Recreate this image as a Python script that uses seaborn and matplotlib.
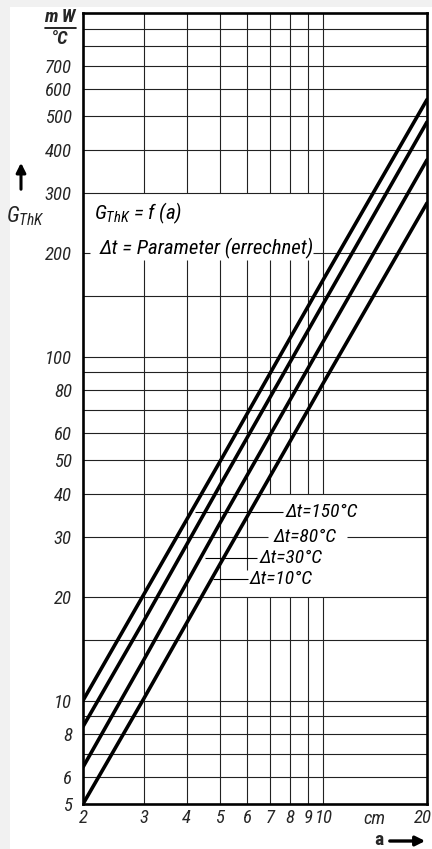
import numpy as np
import pandas as pd
import seaborn as sns
import matplotlib.pyplot as plt
import matplotlib.transforms as mtransforms
from matplotlib import font_manager
from matplotlib.ticker import NullLocator, FixedLocator
from matplotlib.patches import Rectangle

# Data: G_ThK (mW/°C) against distance a (cm)
a_cm = [2, 3, 5, 10, 20]
g_150 = [10.0, 20.3, 49.5, 168, 560]
g_80 = [8.4, 17.0, 42.2, 143, 482]
g_30 = [6.4, 13.1, 32.8, 111, 374]
g_10 = [5.0, 10.1, 24.9, 84, 280]
series_names = ['150', '80', '30', '10']

x_ticks = [2, 3, 4, 5, 6, 7, 8, 9, 10, 20]
x_tick_labels = ['2', '3', '4', '5', '6', '7', '8', '9', '10', '20']
y_ticks = [5, 6, 8, 10, 20, 30, 40, 50, 60, 80, 100, 200, 300, 400, 500, 600, 700]
y_tick_labels = [str(v) for v in y_ticks]

df = pd.DataFrame({
    'a': a_cm * 4,
    'G': g_150 + g_80 + g_30 + g_10,
    'dt': np.repeat(series_names, len(a_cm)),
})

# the original uses a narrow italic lettering, take a narrow face if one is there
names = {f.name for f in font_manager.fontManager.ttflist}
family = 'DejaVu Sans'
for cand in ['Roboto Condensed', 'Liberation Sans Narrow', 'DejaVu Sans Condensed',
             'Open Sans Condensed']:
    if cand in names:
        family = cand
        break
k = 1.0 if family != 'DejaVu Sans' else 0.82
fs_tick = 13.5 * k
fs_text = 15 * k
fs_lab = 14 * k

sns.set_style('white')
plt.rcParams['font.family'] = [family, 'DejaVu Sans']
plt.rcParams['font.style'] = 'italic'
plt.rcParams['mathtext.fontset'] = 'custom'
plt.rcParams['mathtext.it'] = family + ':italic'
plt.rcParams['mathtext.rm'] = family + ':italic'

W, H = 432, 849
fig = plt.figure(figsize=(W / 100, H / 100), dpi=100, facecolor='#f1f1f1')
fig.patches.append(Rectangle((10 / W, 0), 1, 1 - 7 / H, transform=fig.transFigure,
                             facecolor='white', edgecolor='none', zorder=-10))
ax = fig.add_axes([83 / W, 1 - 804 / H, (427 - 83) / W, (804 - 13) / H])
ax.set_facecolor('white')
ax.set_xscale('log')
ax.set_yscale('log')
ax.set_xlim(2, 20)
ax.set_ylim(5, 1000)

gkw = dict(color='#222222', lw=0.8, zorder=1)


def vseg(x, lows, highs):
    ax.vlines([x] * len(lows), lows, highs, **gkw)


# grid, drawn by hand because the original leaves gaps for the text
for y in [6, 7, 8, 9, 10, 15, 20, 40, 50, 60, 70, 80, 90, 100, 150,
          300, 400, 500, 600, 700, 800, 900]:
    ax.hlines(y, 2, 20, **gkw)
ax.hlines(200, 2, 2.1, **gkw)
ax.hlines(200, 9.3, 20, **gkw)
ax.hlines(30, 2, 6.9, **gkw)
ax.hlines(30, 11.7, 20, **gkw)
for x in [3, 4, 5]:
    vseg(x, [5, 300], [191, 1000])
vseg(6, [5, 24, 300], [20, 191, 1000])
for x in [7, 8, 9]:
    vseg(x, [5, 40, 300], [20, 191, 1000])
vseg(10, [5, 40], [20, 1000])

sns.lineplot(data=df, x='a', y='G', hue='dt', palette=['black'] * 4,
             legend=False, lw=2.6, ax=ax, zorder=3)

for s in ax.spines.values():
    s.set_color('black')
    s.set_linewidth(1.9)

ax.xaxis.set_major_locator(FixedLocator(x_ticks))
ax.set_xticklabels(x_tick_labels)
ax.yaxis.set_major_locator(FixedLocator(y_ticks))
ax.set_yticklabels(y_tick_labels)
ax.xaxis.set_minor_locator(NullLocator())
ax.yaxis.set_minor_locator(NullLocator())
ax.tick_params(axis='both', length=0, labelsize=fs_tick)
ax.tick_params(axis='y', pad=8)
ax.tick_params(axis='x', pad=3.5)
ax.set_xlabel('')
ax.set_ylabel('')
last = ax.get_xticklabels()[-1]
last.set_transform(last.get_transform() +
                   mtransforms.ScaledTranslation(-4 / 100, 0, fig.dpi_scale_trans))

tkw = dict(color='black', style='italic', zorder=4)
# text block
ax.text(2.15, 262, r'$G_{ThK}$ = f (a)', va='center', ha='left', fontsize=fs_text, **tkw)
ax.text(2.24, 207, 'Δt = Parameter (errechnet)', va='center', ha='left',
        fontsize=fs_text, **tkw)

# curve labels with leader lines
ax.hlines(35.4, 4.23, 7.62, color='black', lw=0.8, zorder=2)
ax.text(7.78, 35.4, 'Δt=150°C', va='center', ha='left', fontsize=fs_lab, **tkw)
ax.text(7.15, 30, 'Δt=80°C', va='center', ha='left', fontsize=fs_lab, **tkw)
ax.hlines(26.0, 4.53, 6.43, color='black', lw=0.8, zorder=2)
ax.text(6.54, 26.0, 'Δt=30°C', va='center', ha='left', fontsize=fs_lab, **tkw)
ax.hlines(22.6, 4.78, 6.03, color='black', lw=0.8, zorder=2)
ax.text(6.12, 22.6, 'Δt=10°C', va='center', ha='left', fontsize=fs_lab, **tkw)

# axis titles
fig.text(60 / W, 1 - 17 / H, 'm W', ha='center', va='center', fontsize=fs_tick,
         style='italic', weight='bold')
fig.add_artist(plt.Line2D([45 / W, 76 / W], [1 - 28 / H, 1 - 28 / H], color='black', lw=1.2))
fig.text(60 / W, 1 - 39 / H, '°C', ha='center', va='center', fontsize=fs_tick,
         style='italic', weight='bold')
fig.text(25 / W, 1 - 216 / H, r'$G_{ThK}$', ha='center', va='center', fontsize=fs_text + 1)
ax.annotate('', xy=(21, H - 160), xytext=(21, H - 192), xycoords='figure pixels',
            textcoords='figure pixels',
            arrowprops=dict(arrowstyle='-|>', lw=2.2, color='black', mutation_scale=14))
fig.text(374 / W, 1 - 819 / H, 'cm', ha='center', va='center', fontsize=fs_tick,
         style='italic')
fig.text(379 / W, 1 - 845 / H, 'a', ha='center', va='baseline', fontsize=14 * k,
         style='normal', weight='bold')
ax.annotate('', xy=(428, H - 841), xytext=(387, H - 841), xycoords='figure pixels',
            textcoords='figure pixels',
            arrowprops=dict(arrowstyle='-|>', lw=2.4, color='black', mutation_scale=14))

fig.savefig('out.png', dpi=100, facecolor=fig.get_facecolor())
